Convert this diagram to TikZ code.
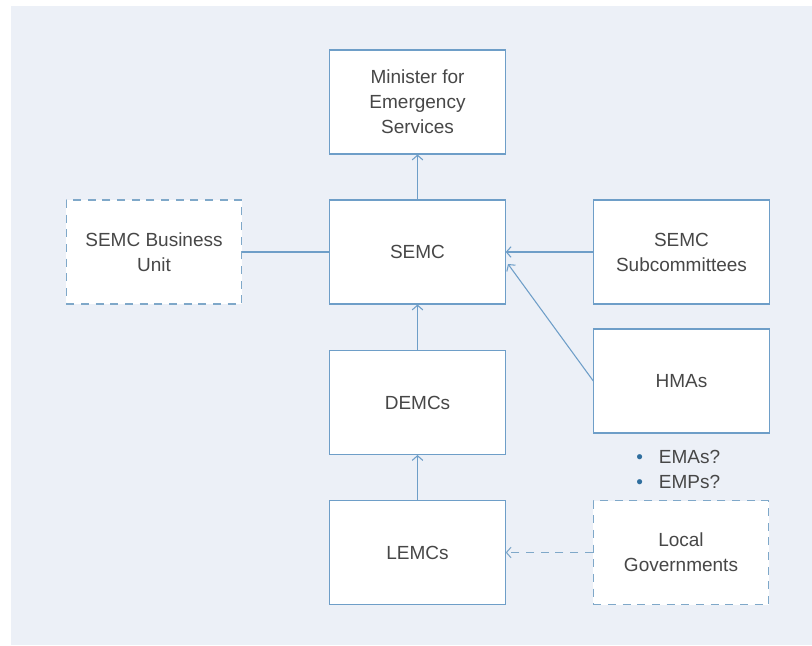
\documentclass[tikz,border=0pt]{standalone}
\usepackage{fontspec}
\setmainfont{Liberation Sans}
\usetikzlibrary{arrows.meta}
\definecolor{bgc}{HTML}{ECF0F7}
\definecolor{linec}{HTML}{6E9EC8}
\definecolor{dashc}{HTML}{7FA8C9}
\definecolor{txtc}{HTML}{474747}
\definecolor{bulc}{HTML}{2F6E9E}
\tikzset{
  box/.style={draw=linec, fill=white, line width=0.8pt, minimum width=131.5pt, minimum height=78pt,
    align=center, text=txtc, font=\fontsize{14.25}{18.75}\selectfont, inner sep=0pt},
  dbox/.style={box, draw=dashc, dash pattern=on 6pt off 5pt},
  conn/.style={draw=linec, line width=0.8pt},
  arr/.style={conn, -{Straight Barb[length=3.5pt,width=8pt,line width=0.8pt]}},
  bul/.style={text=txtc, font=\fontsize{14.25}{18.75}\selectfont, anchor=west, inner sep=0pt}
}
\begin{document}
\begin{tikzpicture}[x=0.75pt,y=-0.75pt]
\useasboundingbox (0,0) rectangle (812,645);
\fill[white] (0,0) rectangle (812,645);
\fill[bgc] (11,6) rectangle (812,645);
\node[box] (min) at (417.5,102) {Minister for\\Emergency\\Services};
\node[box] (semc) at (417.5,252) {SEMC};
\node[box] (demc) at (417.5,402.5) {DEMCs};
\node[box] (lemc) at (417.5,552.5) {LEMCs};
\node[dbox] (bu) at (154,252) {SEMC Business\\Unit};
\node[box] (sub) at (681.5,252) {SEMC\\Subcommittees};
\node[box] (hma) at (681.5,381) {HMAs};
\node[dbox] (lg) at (681,552.5) {Local\\Governments};
\node[bul] (b1) at (636,457) {\textcolor{bulc}{\textbullet}\hspace{12pt}EMAs?};
\node[bul] (b2) at (636,482) {\textcolor{bulc}{\textbullet}\hspace{12pt}EMPs?};
\coordinate (hmaend) at (508,264);
\draw[arr] (semc.north) -- (min.south);
\draw[arr] (demc.north) -- (semc.south);
\draw[arr] (lemc.north) -- (demc.south);
\draw[conn] (bu.east) -- (semc.west);
\draw[arr] (sub.west) -- (semc.east);
\draw[arr] (hma.west) -- (hmaend);
\draw[arr, draw=dashc, dash pattern=on 6pt off 5pt] (lg.west) -- (lemc.east);
\end{tikzpicture}
\end{document}
